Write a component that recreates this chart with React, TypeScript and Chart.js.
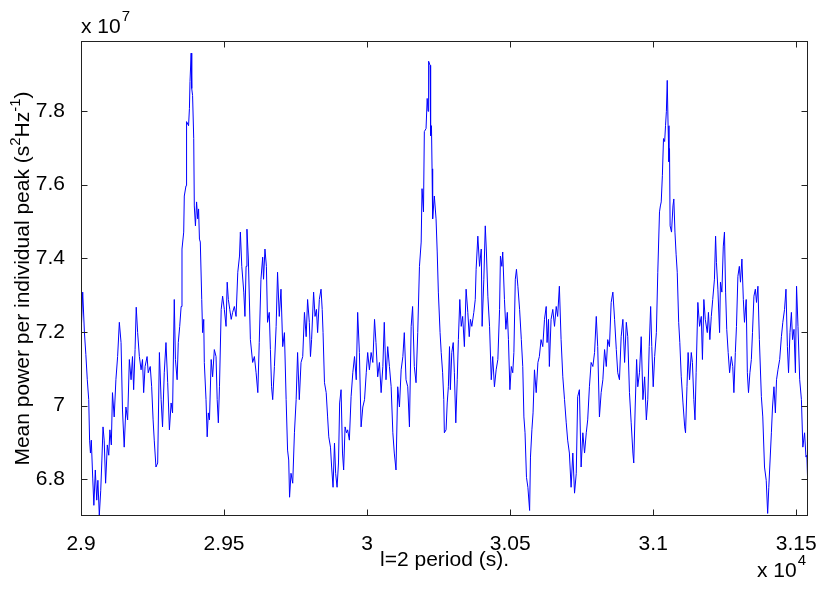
import React, { useEffect, useRef } from "react";
import { Chart, registerables } from "chart.js";

Chart.register(...registerables);

// x: period in seconds, y: mean power in units of 1e7 s^2 Hz^-1
const xTicks = [29000, 29500, 30000, 30500, 31000, 31500];
const yTicks = [6.8, 7, 7.2, 7.4, 7.6, 7.8];
const xRange = [29000, 31541];
const yRange = [6.7, 7.99];
const xTitle = "l=2 period (s).";
const yTitleParts: [string, boolean][] = [
  ["Mean power per individual peak (s", false],
  ["2", true],
  ["Hz", false],
  ["-1", true],
  [")", false],
];
const xExponent = "4";
const yExponent = "7";

const cycle1: [number, number][] = [
  [29000,7.187],[29006,7.308],[29012,7.198],[29017,7.138],[29022,7.070],[29027,7.016],[29030,6.906],[29033,6.871],[29036,6.906],[29041,6.803],
  [29045,6.729],[29050,6.825],[29055,6.743],[29059,6.797],[29064,6.702],[29069,6.770],[29073,6.852],[29077,6.942],[29081,6.906],[29086,6.789],
  [29092,6.893],[29097,6.865],[29101,6.934],[29106,6.893],[29110,7.035],[29116,6.969],[29122,7.070],[29128,7.133],[29134,7.226],[29140,7.171],
  [29145,6.988],[29151,6.887],[29157,6.996],[29163,6.961],[29169,7.125],[29175,7.070],[29180,7.133],[29184,7.043],[29189,7.152],[29193,7.267],
  [29198,7.198],[29204,7.133],[29210,7.097],[29215,7.125],[29219,7.035],[29224,7.106],[29231,7.133],[29235,7.089],[29242,7.106],[29247,7.051],
  [29252,6.961],[29256,6.906],[29262,6.833],[29268,6.844],[29274,7.144],[29280,7.016],[29285,6.942],[29291,7.089],[29297,7.171],[29303,7.062],
  [29309,6.934],[29315,7.007],[29320,6.980],[29326,7.288],[29330,7.125],[29336,7.070],[29340,7.171],[29345,7.215],[29350,7.269],[29353,7.425],
  [29359,7.471],[29361,7.569],[29367,7.597],[29369,7.771],[29376,7.760],[29379,7.807],[29381,7.880],[29385,7.957],[29387,7.861],[29390,7.842],
  [29394,7.725],[29396,7.542],[29400,7.488],[29404,7.553],[29408,7.507],[29411,7.534],[29414,7.452],[29417,7.444],[29422,7.288],[29425,7.198],
  [29429,7.234],[29431,7.117],[29437,7.016],[29441,6.915],[29445,6.980],[29449,6.961],[29455,7.125],[29460,7.078],[29466,7.152],[29472,7.133],
  [29476,7.016],[29480,6.953],[29484,7.051],[29490,7.261],[29495,7.297],[29501,7.261],[29507,7.215],[29511,7.335],[29515,7.288],[29520,7.261],
  [29525,7.234],[29530,7.253],[29536,7.269],[29542,7.242],[29548,7.362],[29554,7.406],[29557,7.471],[29562,7.378],[29569,7.308],[29573,7.242],
  [29577,7.378],[29580,7.479],[29585,7.398],[29592,7.179],[29600,7.117],[29606,7.133],[29612,7.089],[29618,7.035],[29623,7.171],[29629,7.343],
  [29635,7.403],[29638,7.343],[29643,7.425],[29648,7.378],[29652,7.226],[29658,7.253],[29662,7.152],[29666,7.051],[29670,7.016],[29676,7.106],
  [29682,7.215],[29687,7.362],[29693,7.242],[29699,7.316],[29705,7.160],[29711,7.198],[29717,7.016],[29722,6.879],[29726,6.852],[29729,6.751],
  [29734,6.816],[29740,6.789],[29746,6.926],[29752,7.016],[29757,7.144],[29763,7.016],[29769,7.117],[29775,7.133],[29781,7.253],[29787,7.187],
  [29792,7.288],[29798,7.226],[29802,7.133],[29806,7.179],[29813,7.308],[29818,7.242],[29823,7.261],[29827,7.198],[29833,7.288],[29839,7.316],
  [29843,7.261],[29846,7.198],
];

const cycle2: [number, number][] = [
  [29851,7.062],[29857,7.035],[29862,6.969],[29866,6.915],[29872,6.887],[29876,6.833],[29881,6.778],[29886,6.898],[29890,6.816],[29895,6.778],
  [29900,6.844],[29904,7.007],[29909,7.043],[29914,6.871],[29918,6.825],[29923,6.942],[29928,6.926],[29932,6.934],[29938,6.906],[29944,7.024],
  [29950,7.089],[29956,7.133],[29962,7.070],[29967,7.253],[29973,7.144],[29979,6.942],[29985,6.996],[29991,7.016],[29997,7.089],[30002,7.144],
  [30008,7.097],[30014,7.144],[30020,7.117],[30026,7.234],[30031,7.171],[30037,7.078],[30043,7.117],[30049,7.035],[30055,7.106],[30060,7.226],
  [30066,7.070],[30072,7.160],[30078,7.106],[30084,7.051],[30090,6.926],[30095,6.871],[30101,6.825],[30107,7.051],[30113,6.996],[30119,7.097],
  [30125,7.133],[30130,7.198],[30136,7.070],[30142,7.051],[30148,6.942],[30154,7.215],[30159,7.269],[30165,7.106],[30171,7.062],[30177,7.198],
  [30183,7.378],[30189,7.444],[30192,7.589],[30197,7.526],[30200,7.744],[30206,7.752],[30210,7.834],[30213,7.799],[30215,7.935],[30220,7.924],
  [30222,7.733],[30225,7.760],[30227,7.643],[30229,7.507],[30235,7.569],[30241,7.507],[30245,7.417],[30249,7.308],[30255,7.198],[30259,7.144],
  [30264,7.089],[30268,7.016],[30270,6.926],[30276,6.934],[30280,7.007],[30284,7.051],[30288,7.160],[30291,7.043],[30296,7.144],[30301,7.171],
  [30305,7.089],[30310,6.953],[30315,7.070],[30319,7.179],[30324,7.288],[30329,7.215],[30334,7.242],[30340,7.160],[30346,7.316],[30352,7.253],
  [30357,7.187],[30361,7.234],[30366,7.215],[30373,7.253],[30378,7.288],[30381,7.370],[30387,7.460],[30393,7.378],[30399,7.425],[30402,7.215],
  [30408,7.343],[30413,7.488],[30417,7.417],[30422,7.297],[30428,7.215],[30434,7.070],[30439,7.133],[30445,7.051],[30451,7.097],[30457,7.125],
  [30463,7.261],[30466,7.406],[30471,7.378],[30474,7.417],[30480,7.288],[30485,7.207],[30490,7.253],[30494,7.179],[30499,7.043],[30504,7.106],
  [30509,7.089],[30513,7.144],[30518,7.343],[30522,7.370],[30527,7.324],[30533,7.261],[30539,7.179],[30544,7.106],[30548,6.969],[30552,6.926],
  [30557,6.805],[30562,6.778],[30568,6.715],[30571,6.860],[30576,6.934],[30580,6.980],[30585,7.097],[30591,7.035],[30597,7.117],[30602,7.133],
  [30608,7.179],[30614,7.160],[30620,7.234],[30626,7.269],[30629,7.171],[30634,7.234],[30637,7.106],[30643,7.234],[30649,7.261],[30655,7.215],
  [30661,7.269],[30666,7.242],[30672,7.324],[30678,7.179],[30684,7.078],[30690,7.016],[30696,6.953],[30701,6.906],[30707,6.871],[30713,6.778],
  [30719,6.871],[30725,6.762],
];

const cycle3: [number, number][] = [
  [30731,6.816],[30736,7.024],[30742,7.043],[30748,6.833],[30754,6.926],[30760,6.871],[30766,6.926],[30771,6.961],[30777,7.051],[30783,7.117],
  [30789,7.106],[30795,7.144],[30801,7.242],[30806,7.160],[30812,6.969],[30818,7.035],[30824,7.070],[30830,7.152],[30836,7.106],[30841,7.179],
  [30847,7.160],[30853,7.280],[30859,7.308],[30865,7.234],[30871,7.152],[30876,7.089],[30882,7.070],[30888,7.187],[30894,7.234],[30900,7.117],
  [30906,7.226],[30911,7.187],[30917,7.035],[30923,6.953],[30929,6.871],[30932,6.844],[30937,6.996],[30942,7.125],[30946,7.051],[30952,7.089],
  [30958,7.187],[30964,7.016],[30970,7.078],[30976,6.961],[30981,7.016],[30986,7.160],[30991,7.269],[30995,7.160],[31000,7.051],[31005,7.133],
  [31011,7.198],[31016,7.362],[31022,7.526],[31025,7.542],[31028,7.553],[31032,7.624],[31036,7.725],[31040,7.717],[31043,7.760],[31046,7.799],
  [31049,7.883],[31052,7.760],[31055,7.662],[31057,7.698],[31059,7.488],[31064,7.471],[31069,7.542],[31072,7.561],[31076,7.471],[31080,7.411],
  [31084,7.362],[31089,7.226],[31093,7.171],[31098,7.078],[31104,7.007],[31110,6.942],[31113,6.926],[31118,7.051],[31122,7.144],[31127,7.070],
  [31133,7.144],[31137,7.117],[31142,7.016],[31146,6.961],[31150,7.089],[31156,7.280],[31162,7.215],[31168,7.242],[31172,7.125],[31177,7.288],
  [31182,7.234],[31189,7.198],[31193,7.253],[31198,7.179],[31203,7.242],[31208,7.288],[31214,7.343],[31218,7.460],[31221,7.389],[31226,7.316],
  [31232,7.198],[31235,7.335],[31240,7.308],[31245,7.433],[31249,7.471],[31253,7.308],[31257,7.207],[31262,7.144],[31267,7.089],[31273,7.133],
  [31278,7.106],[31282,7.035],[31287,7.144],[31291,7.215],[31296,7.351],[31301,7.378],[31305,7.335],[31310,7.398],[31315,7.288],[31319,7.226],
  [31325,7.288],[31329,7.089],[31333,7.035],[31338,7.089],[31343,7.125],[31347,7.198],[31352,7.297],[31357,7.316],[31361,7.280],[31366,7.324],
  [31371,7.179],[31378,7.024],[31383,6.969],[31389,6.833],[31395,6.797],[31400,6.707],[31404,6.778],[31413,6.926],[31417,6.996],[31422,7.051],
  [31427,6.980],[31431,7.070],[31436,7.097],[31442,7.125],[31448,7.187],[31453,7.226],[31459,7.261],[31464,7.316],[31469,7.160],[31473,7.089],
  [31478,7.198],[31483,7.253],[31487,7.179],[31492,7.207],[31497,7.089],[31501,7.324],[31506,7.215],[31512,7.070],[31518,7.016],[31523,6.887],
  [31529,6.926],[31534,6.860],[31537,6.865],[31541,6.762],
];

const FONT = '"Liberation Sans", Arial, Helvetica, sans-serif';
const FS = 21;
const SUP = 15;

export default function App() {
  const ref = useRef<HTMLCanvasElement>(null);

  useEffect(() => {
    if (!ref.current) return;
    const points = [...cycle1, ...cycle2, ...cycle3].map(([x, y]) => ({ x, y }));

    const framePlugin = {
      id: "matlabFrame",
      afterDraw(chart: any) {
        const { ctx, chartArea: a, scales } = chart;
        const xs = scales.x;
        const ys = scales.y;
        ctx.save();
        // box
        ctx.strokeStyle = "#222";
        ctx.lineWidth = 1;
        const L = Math.round(a.left) + 0.5;
        const R = Math.round(a.right) - 0.5;
        const T = Math.round(a.top) + 0.5;
        const B = Math.round(a.bottom) - 0.5;
        ctx.strokeRect(L, T, R - L, B - T);
        // inward ticks
        const tl = 6;
        ctx.beginPath();
        xTicks.forEach((v) => {
          const px = Math.round(xs.getPixelForValue(v)) + 0.5;
          ctx.moveTo(px, B); ctx.lineTo(px, B - tl);
          ctx.moveTo(px, T); ctx.lineTo(px, T + tl);
        });
        yTicks.forEach((v) => {
          const py = Math.round(ys.getPixelForValue(v)) + 0.5;
          ctx.moveTo(L, py); ctx.lineTo(L + tl, py);
          ctx.moveTo(R, py); ctx.lineTo(R - tl, py);
        });
        ctx.stroke();

        ctx.fillStyle = "#000";
        ctx.textBaseline = "alphabetic";
        const main = `${FS}px ${FONT}`;
        const sup = `${SUP}px ${FONT}`;

        // x title
        ctx.font = main;
        ctx.textAlign = "center";
        ctx.fillText(xTitle, (a.left + a.right) / 2, 566);

        // exponent labels
        ctx.textAlign = "left";
        ctx.font = main;
        const base = "x 10";
        const bw = ctx.measureText(base).width;
        ctx.fillText(base, a.left, 33);
        ctx.fillText(base, 757, 577);
        ctx.font = sup;
        ctx.fillText(yExponent, a.left + bw + 1, 21);
        ctx.fillText(xExponent, 757 + bw + 1, 565);

        // y title (rotated, with superscripts)
        ctx.translate(29, (a.top + a.bottom) / 2);
        ctx.rotate(-Math.PI / 2);
        let total = 0;
        yTitleParts.forEach(([t, s]) => {
          ctx.font = s ? sup : main;
          total += ctx.measureText(t).width;
        });
        let cx = -total / 2;
        yTitleParts.forEach(([t, s]) => {
          ctx.font = s ? sup : main;
          ctx.fillText(t, cx, s ? -9 : 0);
          cx += ctx.measureText(t).width;
        });
        ctx.restore();
      },
    };

    const chart = new Chart(ref.current, {
      type: "line",
      data: {
        datasets: [
          {
            data: points,
            borderColor: "#0000ff",
            borderWidth: 1,
            pointRadius: 0,
            tension: 0,
            fill: false,
          },
        ],
      },
      options: {
        responsive: false,
        animation: false,
        layout: { padding: { top: 41, right: 23, left: 0, bottom: 0 } },
        plugins: { legend: { display: false }, tooltip: { enabled: false } },
        scales: {
          x: {
            type: "linear",
            min: xRange[0],
            max: xRange[1],
            afterBuildTicks: (s: any) => {
              s.ticks = xTicks.map((v) => ({ value: v }));
            },
            afterFit: (s: any) => {
              s.height = 76;
            },
            grid: { display: false },
            border: { display: false },
            ticks: {
              autoSkip: false,
              maxRotation: 0,
              padding: 8,
              color: "#000",
              font: { family: FONT, size: FS },
              callback: (v: any) => String(+(Number(v) / 1e4).toFixed(2)),
            },
          },
          y: {
            type: "linear",
            min: yRange[0],
            max: yRange[1],
            afterBuildTicks: (s: any) => {
              s.ticks = yTicks.map((v) => ({ value: v }));
            },
            afterFit: (s: any) => {
              s.width = 81;
            },
            grid: { display: false },
            border: { display: false },
            ticks: {
              autoSkip: false,
              padding: 8,
              color: "#000",
              font: { family: FONT, size: FS },
              callback: (v: any) => String(+Number(v).toFixed(1)),
            },
          },
        },
      },
      plugins: [framePlugin],
    } as any);

    return () => chart.destroy();
  }, []);

  return (
    <div style={{ position: "fixed", left: 0, top: 0, width: 831, height: 592, background: "#fff" }}>
      <canvas ref={ref} width={831} height={592} style={{ display: "block" }} />
    </div>
  );
}
